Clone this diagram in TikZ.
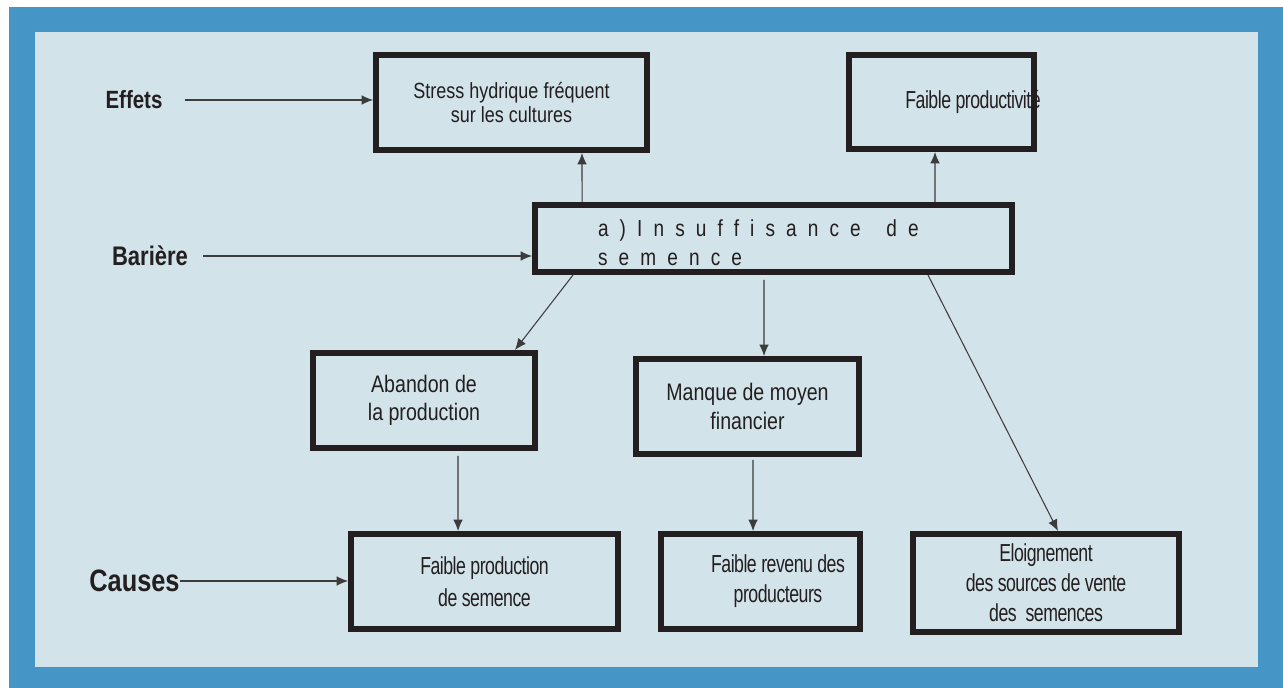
\documentclass[tikz,border=0pt]{standalone}
\usepackage{fontspec}
\setmainfont{Liberation Sans}
\newfontfamily\narrowfont[FakeStretch=0.82]{Liberation Sans}
\newfontfamily\tightfont[FakeStretch=0.72,LetterSpace=-2]{Liberation Sans}
\newfontfamily\spacedfont[FakeStretch=0.82,LetterSpace=48]{Liberation Sans}
\usetikzlibrary{arrows.meta}
\definecolor{frameblue}{HTML}{4596C6}
\definecolor{panel}{HTML}{D3E3EA}
\definecolor{ink}{HTML}{231F20}
\definecolor{wire}{HTML}{3C3C3C}
\tikzset{
	box/.style={draw=ink, line width=3.4pt, fill=panel, text=ink, align=center, font=\narrowfont\fontsize{12.5}{14}\selectfont},
	tightbox/.style={box, font=\tightfont\fontsize{14}{17}\selectfont},
	flow/.style={draw=wire, line width=0.6pt, -{Latex[length=6.5pt,width=5.5pt]}},
	tag/.style={text=ink, inner sep=0pt, font=\narrowfont\bfseries\fontsize{#1}{#1}\selectfont}
}
\begin{document}
\begin{tikzpicture}[x=0.02cm, y=-0.02cm]
		\useasboundingbox (0,0) rectangle (1283,688);
		\fill[white] (0,0) rectangle (1283,688);
		\fill[frameblue] (9,7) rectangle (1283,688);
		\fill[panel] (35,32) rectangle (1258,667);
		
		\node[box, minimum width=5.42cm, minimum height=1.9cm] (stress) at (511.5,102.5) {Stress hydrique fréquent\\sur les cultures};
		\node[tightbox, minimum width=3.7cm, minimum height=1.88cm] (prodv) at (941.5,102) {\makebox[2cm]{\hspace*{1.26cm}Faible productivité}};
		\node[box, minimum width=9.54cm, minimum height=1.34cm, text width=7.02cm, align=left, inner xsep=0pt, font=\spacedfont\fontsize{13.2}{16.4}\selectfont] (insuf) at (773.5,238.5) {\rule{0pt}{14.5pt}a)Insuffisance\hspace{1.1em}de\\semence};
		\node[box, minimum width=4.44cm, minimum height=1.9cm, font=\narrowfont\fontsize{13.6}{16}\selectfont] (abandon) at (424,400.5) {Abandon de\\la production};
		\node[box, minimum width=4.46cm, minimum height=1.9cm, font=\narrowfont\fontsize{13.6}{16}\selectfont] (manque) at (747.5,406.5) {Manque de moyen\\financier};
		\node[tightbox, minimum width=5.34cm, minimum height=1.9cm, font=\tightfont\fontsize{14}{18}\selectfont] (fprod) at (484.5,581.5) {Faible production\\de semence};
		\node[tightbox, minimum width=3.98cm, minimum height=1.9cm] (frev) at (760.5,581.5) {\hspace*{0.7cm}Faible revenu des\\\hspace*{0.7cm}producteurs};
		\node[tightbox, minimum width=5.32cm, minimum height=1.96cm] (eloign) at (1046,583) {Eloignement\\des sources de vente\\des\ \ semences};
		
		\node[tag=14.2] (effets) at (134,100) {Effets};
		\node[tag=15.3] (bariere) at (150,256) {Barière};
		\node[tag=17.6] (causes) at (134.5,581) {Causes};
		
		\draw[flow] ([xshift=0.44cm]effets.east) -- (stress.west |- effets.east);
		\draw[flow] ([xshift=0.3cm]bariere.east) -- (insuf.west |- bariere.east);
		\draw[flow] (causes.east) -- (fprod.west |- causes.east);
		
		\draw[flow] ([xshift=-3.83cm]insuf.north) -- ([xshift=1.41cm]stress.south);
		\draw[flow] ([xshift=3.23cm]insuf.north) -- ([xshift=-0.13cm]prodv.south);
		\draw[flow] ([xshift=-4.01cm]insuf.south) -- ([xshift=1.82cm]abandon.north);
		\draw[flow] ([xshift=-0.19cm,yshift=-0.1cm]insuf.south) -- ([xshift=0.33cm]manque.north);
		\draw[flow] ([xshift=3.09cm]insuf.south) -- ([xshift=0.24cm]eloign.north);
		\draw[flow] ([xshift=0.68cm,yshift=-0.1cm]abandon.south) -- ([xshift=-0.53cm]fprod.north);
		\draw[flow] ([xshift=0.11cm,yshift=-0.06cm]manque.south) -- ([xshift=-0.15cm]frev.north);
\end{tikzpicture}
\end{document}
